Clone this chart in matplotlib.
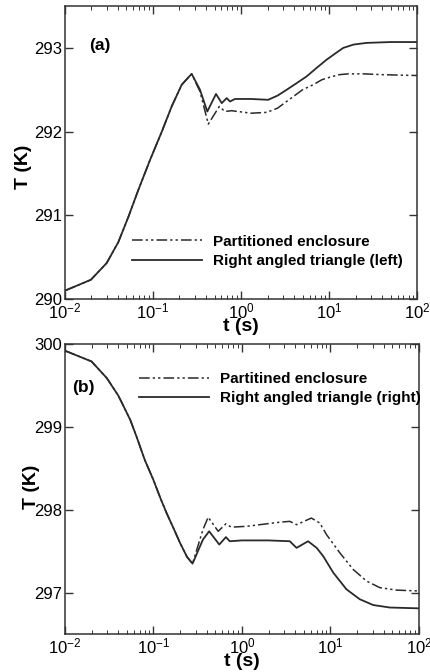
import numpy as np
import matplotlib
matplotlib.use("Agg")
import matplotlib.pyplot as plt
from matplotlib.ticker import LogLocator, FixedLocator

plt.rcParams["font.family"] = ["Liberation Sans", "DejaVu Sans"]
plt.rcParams["mathtext.fontset"] = "custom"
plt.rcParams["mathtext.rm"] = "Liberation Sans"
plt.rcParams["mathtext.it"] = "Liberation Sans:italic"
plt.rcParams["mathtext.bf"] = "Liberation Sans:bold"

# ── panel (a): left enclosure temperature ──────────────────────────────────
t_a_solid = [0.01, 0.0197, 0.0298, 0.0404, 0.0525, 0.068, 0.0925, 0.126, 0.163, 0.212,
             0.275, 0.342, 0.414, 0.52, 0.604, 0.687, 0.75, 0.855, 1.3, 2.03,
             2.6, 3.3, 4.3, 5.57, 7.2, 9.4, 12, 14.5, 19, 26.8, 50, 100]
T_a_solid = [290.10, 290.23, 290.43, 290.68, 290.98, 291.30, 291.66, 292.00, 292.30, 292.56,
             292.69, 292.50, 292.24, 292.45, 292.34, 292.40, 292.36, 292.39, 292.39, 292.38,
             292.43, 292.50, 292.58, 292.66, 292.76, 292.86, 292.94, 293.00, 293.04, 293.06, 293.07, 293.07]
t_a_dash = [0.01, 0.0197, 0.0298, 0.0404, 0.0525, 0.068, 0.0925, 0.126, 0.163, 0.212,
            0.275, 0.342, 0.425, 0.566, 0.658, 0.78, 1.3, 1.96, 2.6, 3.6,
            5.0, 6.6, 8.3, 10.2, 13, 16.6, 25, 41, 100]
T_a_dash = [290.10, 290.23, 290.43, 290.68, 290.98, 291.30, 291.66, 292.00, 292.30, 292.56,
            292.69, 292.48, 292.09, 292.30, 292.24, 292.25, 292.22, 292.23, 292.28, 292.39,
            292.50, 292.56, 292.62, 292.65, 292.68, 292.69, 292.69, 292.68, 292.67]

# ── panel (b): right enclosure temperature ─────────────────────────────────
t_b_solid = [0.01, 0.02, 0.0297, 0.04, 0.046, 0.055, 0.0646, 0.08, 0.1, 0.12,
             0.141, 0.17, 0.2, 0.24, 0.277, 0.363, 0.427, 0.555, 0.66, 0.73,
             1.0, 2.0, 3.48, 4.15, 5.6, 7.0, 8.3, 10.8, 15.2, 21.5,
             30.5, 47, 100]
T_b_solid = [299.92, 299.79, 299.59, 299.38, 299.25, 299.08, 298.88, 298.60, 298.36, 298.14,
             297.96, 297.77, 297.60, 297.43, 297.35, 297.64, 297.74, 297.58, 297.67, 297.62,
             297.63, 297.63, 297.62, 297.54, 297.62, 297.54, 297.44, 297.24, 297.04, 296.92,
             296.85, 296.82, 296.81]
t_b_dash = [0.01, 0.02, 0.0297, 0.04, 0.046, 0.055, 0.0646, 0.08, 0.1, 0.12,
            0.141, 0.17, 0.2, 0.24, 0.277, 0.363, 0.416, 0.54, 0.66, 0.76,
            1.13, 2.68, 3.48, 4.15, 6.1, 7.6, 9.05, 12.8, 18.1, 25.6,
            36.2, 56, 100]
T_b_dash = [299.92, 299.79, 299.59, 299.38, 299.25, 299.08, 298.88, 298.60, 298.36, 298.14,
            297.96, 297.77, 297.60, 297.43, 297.35, 297.76, 297.91, 297.74, 297.83, 297.79,
            297.80, 297.85, 297.86, 297.82, 297.90, 297.84, 297.70, 297.48, 297.28, 297.14,
            297.06, 297.03, 297.02]

DASH = (0, (7, 2, 1.5, 2, 1.5, 2))
LC = "#2a2a2a"


def style_axis(ax, ylim, yticks):
    ax.set_xscale("log")
    ax.set_xlim(1e-2, 1e2)
    ax.set_ylim(*ylim)
    ax.xaxis.set_major_locator(FixedLocator([1e-2, 1e-1, 1e0, 1e1, 1e2]))
    ax.xaxis.set_minor_locator(LogLocator(base=10, subs=np.arange(2, 10)))
    ax.set_xticklabels([r"$10^{-2}$", r"$10^{-1}$", r"$10^{0}$", r"$10^{1}$", r"$10^{2}$"])
    ax.set_yticks(yticks)
    ax.set_yticklabels([str(v) for v in yticks])
    ax.tick_params(which="both", direction="in", top=True, right=True,
                   labelsize=12, color="#333333", pad=2)
    ax.tick_params(which="major", length=6, width=1)
    ax.tick_params(which="minor", length=3, width=0.7)
    for sp in ax.spines.values():
        sp.set_color("#333333")
        sp.set_linewidth(1.1)
    ax.set_xlabel("t (s)", fontsize=14, fontweight="bold", labelpad=-3)
    ax.set_ylabel("T (K)", fontsize=14, fontweight="bold")


fig = plt.figure(figsize=(4.3, 6.72), dpi=100)

ax1 = fig.add_axes([0.151, 0.555, 0.819, 0.436])
ax1.plot(t_a_dash, T_a_dash, color=LC, lw=1.1, ls=DASH, label="Partitioned enclosure")
ax1.plot(t_a_solid, T_a_solid, color=LC, lw=1.3, label="Right angled triangle (left)")
style_axis(ax1, (290, 293.5), [290, 291, 292, 293])
ax1.yaxis.set_label_coords(-0.094, 0.45)
ax1.text(0.068, 0.85, "(a)", transform=ax1.transAxes, fontsize=12.5, fontweight="bold")
ax1.legend(loc="lower right", bbox_to_anchor=(0.985, 0.075), frameon=False,
           prop={"weight": "bold", "size": 11}, handlelength=4.6,
           handletextpad=0.7, labelspacing=0.35, borderaxespad=0.2)

ax2 = fig.add_axes([0.151, 0.0565, 0.823, 0.4315])
ax2.plot(t_b_dash, T_b_dash, color=LC, lw=1.1, ls=DASH, label="Partitined enclosure")
ax2.plot(t_b_solid, T_b_solid, color=LC, lw=1.3, label="Right angled triangle (right)")
style_axis(ax2, (296.5, 300), [297, 298, 299, 300])
ax2.yaxis.set_label_coords(-0.07, 0.507)
ax2.text(0.02, 0.834, "(b)", transform=ax2.transAxes, fontsize=12.5, fontweight="bold")
ax2.legend(loc="upper right", bbox_to_anchor=(1.03, 0.935), frameon=False,
           prop={"weight": "bold", "size": 11}, handlelength=4.6,
           handletextpad=0.7, labelspacing=0.35, borderaxespad=0.2)

fig.savefig("out.png", dpi=100)
